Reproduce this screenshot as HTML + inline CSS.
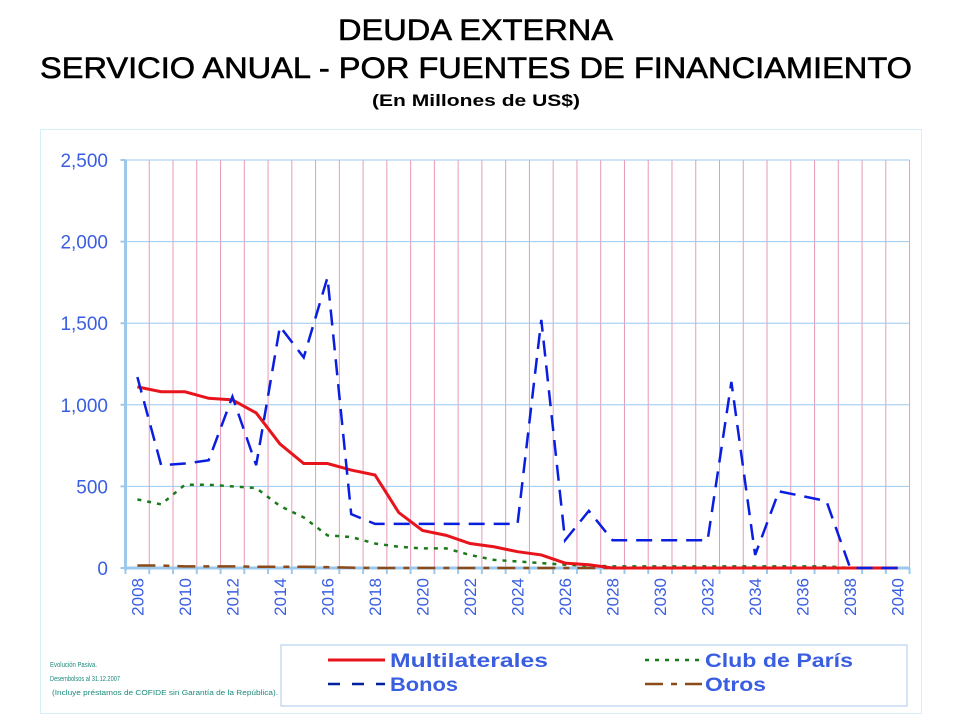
<!DOCTYPE html>
<html><head><meta charset="utf-8"><style>
body{margin:0;background:#fff;width:960px;height:720px;overflow:hidden;font-family:"Liberation Sans",sans-serif}
</style></head><body>
<svg width="960" height="720" xmlns="http://www.w3.org/2000/svg" font-family="Liberation Sans, sans-serif">
<text x="338" y="40" textLength="275" lengthAdjust="spacingAndGlyphs" font-size="30" fill="#000" stroke="#000" stroke-width="0.6">DEUDA EXTERNA</text>
<text x="40" y="78" textLength="872" lengthAdjust="spacingAndGlyphs" font-size="30" fill="#000" stroke="#000" stroke-width="0.6">SERVICIO ANUAL - POR FUENTES DE FINANCIAMIENTO</text>
<text x="372" y="106" textLength="208" lengthAdjust="spacingAndGlyphs" font-size="17" font-weight="bold" fill="#000">(En Millones de US$)</text>
<rect x="40.5" y="129.5" width="881" height="584" fill="none" stroke="#d4f0f8" stroke-width="1"/>
<g id="grid"></g>
<g id="series"></g>
<rect x="281" y="645" width="626" height="61" fill="none" stroke="#a8c8ee" stroke-width="1"/>
<line x1="328" y1="660" x2="385" y2="660" stroke="#e8141c" stroke-width="3"/>
<text x="390" y="667" textLength="158" lengthAdjust="spacingAndGlyphs" font-size="19" font-weight="bold" fill="#3a5ee0">Multilaterales</text>
<line x1="328" y1="684" x2="385" y2="684" stroke="#00209c" stroke-width="2.5" stroke-dasharray="12,12"/>
<text x="390" y="691" textLength="68" lengthAdjust="spacingAndGlyphs" font-size="19" font-weight="bold" fill="#3a5ee0">Bonos</text>
<line x1="645" y1="660" x2="702" y2="660" stroke="#1a7a1a" stroke-width="2.5" stroke-dasharray="4,6"/>
<text x="705" y="667" textLength="148" lengthAdjust="spacingAndGlyphs" font-size="19" font-weight="bold" fill="#3a5ee0">Club de París</text>
<line x1="645" y1="684" x2="702" y2="684" stroke="#8a4a1a" stroke-width="2.5" stroke-dasharray="18,8,6,8"/>
<text x="705" y="691" textLength="61" lengthAdjust="spacingAndGlyphs" font-size="19" font-weight="bold" fill="#3a5ee0">Otros</text>
<text x="50" y="667" textLength="47" lengthAdjust="spacingAndGlyphs" font-size="7" fill="#1a8a7a">Evolución Pasiva.</text>
<text x="50" y="681" textLength="70" lengthAdjust="spacingAndGlyphs" font-size="7" fill="#1a8a7a">Desembolsos al 31.12.2007</text>
<text x="52" y="695" textLength="226" lengthAdjust="spacingAndGlyphs" font-size="7" fill="#1a8a7a">(Incluye préstamos de COFIDE sin Garantía de la República).</text>
</svg>
<script>
const NS="http://www.w3.org/2000/svg";
const x0=125.5,step=23.76,y0=568,py=81.6/500;
const g=document.getElementById('grid'),s=document.getElementById('series');
function el(p,t,a){const e=document.createElementNS(NS,t);for(const k in a)e.setAttribute(k,a[k]);p.appendChild(e);return e;}
for(let i=1;i<=33;i++){const x=x0+i*step;el(g,'line',{x1:x,y1:160,x2:x,y2:y0,stroke:'#e89ab8','stroke-width':1});}
for(let v=500;v<=2500;v+=500){const y=y0-v*py;el(g,'line',{x1:x0,y1:y,x2:x0+33*step,y2:y,stroke:'#9cc8ec','stroke-width':1});}
for(let v=0;v<=2500;v+=500){const y=y0-v*py;el(g,'line',{x1:x0-5,y1:y,x2:x0,y2:y,stroke:'#9cc8ec','stroke-width':2});
 const t=el(g,'text',{x:108,y:y+7,'text-anchor':'end','font-size':19,fill:'#3a5ee0'});t.textContent=v.toLocaleString('en-US');}
el(g,'line',{x1:x0,y1:160,x2:x0,y2:y0+2,stroke:'#9cc8ec','stroke-width':3});
el(g,'line',{x1:x0,y1:y0,x2:x0+33*step,y2:y0,stroke:'#9cc8ec','stroke-width':3});
for(let i=0;i<=33;i++){const x=x0+i*step;el(g,'line',{x1:x,y1:y0,x2:x,y2:y0+6,stroke:'#9cc8ec','stroke-width':2});}
for(let yr=2008;yr<=2040;yr+=2){const x=x0+(yr-2008+0.5)*step;const t=el(g,'text',{x:0,y:0,'font-size':17,fill:'#3a5ee0','text-anchor':'end',transform:`translate(${x+6},${y0+10}) rotate(-90)`});t.textContent=yr;}
function pts(d){return d.map((v,i)=>`${x0+(i+0.5)*step},${y0-v*py}`).join(' ');}
const multi=[1110,1080,1080,1040,1030,950,760,640,640,600,570,340,230,200,150,130,100,80,30,20,0,0,0,0,0,0,0,0,0,0,0,0,0];
const bonos=[1170,630,640,660,1050,630,1480,1290,1780,330,270,270,270,270,270,270,270,1520,170,350,170,170,170,170,170,1140,80,470,440,410,0,0,0];
const club=[420,390,510,510,500,490,380,310,200,190,150,130,120,120,80,50,40,30,20,15,10,10,10,10,10,10,10,10,10,10,0,0,0];
const otros=[15,15,10,10,10,8,8,8,5,2,0,0,0,0,0,0,0,0,0,0,0,0,0,0,0,0,0,0,0,0,0,0,0];
el(s,'polyline',{points:pts(otros),fill:'none',stroke:'#8a4a1a','stroke-width':2.5,'stroke-dasharray':'18,8,6,8'});
el(s,'polyline',{points:pts(club),fill:'none',stroke:'#1a7a1a','stroke-width':2.5,'stroke-dasharray':'4,6'});
el(s,'polyline',{points:pts(multi),fill:'none',stroke:'#e8141c','stroke-width':3});
el(s,'polyline',{points:pts(bonos),fill:'none',stroke:'#0a1ee0','stroke-width':2.5,'stroke-dasharray':'16,9'});
</script>
</body></html>
